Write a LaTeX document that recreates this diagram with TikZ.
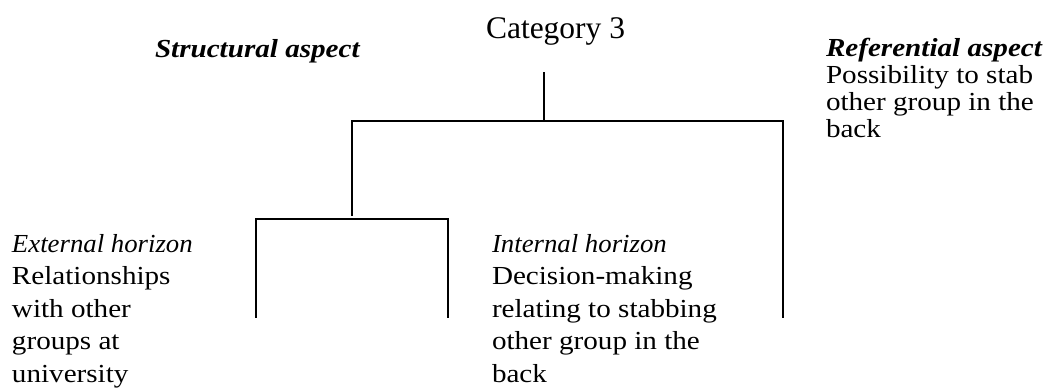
\documentclass[tikz,border=0pt]{standalone}
\usepackage{fontspec}
\setmainfont{Liberation Serif}
% wide serif for the labels, slightly narrower for the italic headings
\newfontfamily\bodyfont[FakeStretch=1.12]{Liberation Serif}
\newfontfamily\itbodyfont[FakeStretch=1.03]{Liberation Serif}
\begin{document}
\begin{tikzpicture}[x=1pt,y=-1pt,
  lbl/.style={inner sep=0pt,outer sep=0pt,anchor=base west,align=left},
  wide/.style={font=\bodyfont\fontsize{26}{32.5}\selectfont},
  tight/.style={font=\bodyfont\fontsize{26}{26.7}\selectfont},
  branch/.style={line width=2.4pt,line cap=rect}]
\useasboundingbox (0,0) rectangle (1045,389);

% labels (multi-line labels are placed by the baseline of their last line)
\node[lbl,font=\fontsize{31.5}{36}\selectfont] (cat) at (486,38) {Category 3};
\node[lbl,tight] (struct) at (155,57) {\bfseries\itshape Structural aspect};
\node[lbl,tight] (ref) at (826,137)
  {\textbf{\textit{Referential aspect}}\\Possibility to stab\\other group in the\\back};
\node[lbl,wide] (ext) at (12,382)
  {{\itbodyfont\itshape External horizon}\\Relationships\\with other\\groups at\\university};
\node[lbl,wide] (int) at (492,382)
  {{\itbodyfont\itshape Internal horizon}\\Decision-making\\relating to stabbing\\other group in the\\back};

% junction points of the tree
\coordinate (root)  at (544,73);
\coordinate (rootj) at (544,121);
\coordinate (tl)    at (352,121);
\coordinate (tr)    at (783,121);
\coordinate (trend) at (783,317);
\coordinate (lstem) at (352,215);
\coordinate (bl)    at (256,219);
\coordinate (br)    at (448,219);
\coordinate (blend) at (256,317);
\coordinate (brend) at (448,317);

\draw[branch] (root) -- (rootj);
\draw[branch] (trend) -- (tr) -- (tl) -- (lstem);
\draw[branch] (blend) -- (bl) -- (br) -- (brend);
\end{tikzpicture}
\end{document}
